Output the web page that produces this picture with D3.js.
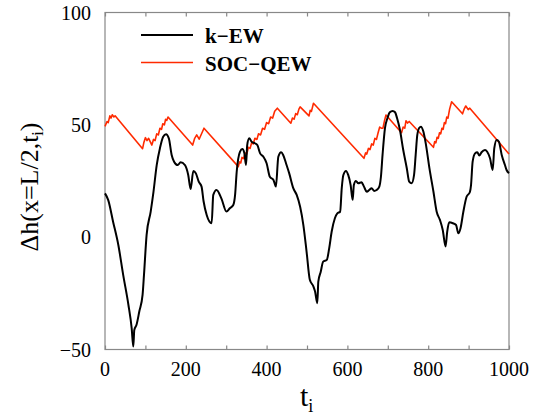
<!DOCTYPE html>
<html><head><meta charset="utf-8">
<script src="https://cdn.jsdelivr.net/npm/d3@7"></script>
<style>
html,body{margin:0;padding:0;background:#fff;}
svg{display:block;}
text{font-family:"Liberation Serif","Times New Roman",serif;}
</style></head>
<body>
<svg id="chart" width="542" height="417"></svg>
<script>
const xTicks = [0, 200, 400, 600, 800, 1000];
const xMinorTicks = [0, 100, 200, 300, 400, 500, 600, 700, 800, 900, 1000];
const yTicks = [-50, 0, 50, 100];
const seriesNames = ["k\u2212EW", "SOC\u2212QEW"];

const kewT = [0,8,20,33,45,58,66,70,72.5,78,85,93,96.5,103,113,120,128,136,144,151,158,165,171,180,187,198,206,212,218.6,225,232,239,244,251.7,264,268,276,288,300.7,309,317.5,322,326,334,340,345,349,352,357,363,371,377,384,392,400,408,417,423,429,436,441,448,456,466,474.5,483,491,499,507,516,520,525.5,528,534,540,549,555,561,569,575,582,586,590,596.5,602,608,613,616,621,627,635,641,648,654,660,666,672.5,679,683,687,693,699,705,712,718,723,730,738,747,753,759,765,769,773,778,782,788,794.6,803,813,821,829,836,843,847,852,861,869,874.5,880,887,895,903,906,910,916,921.5,926.5,932,940.6,946,953,959.6,963.6,969.6,975,982,990,994,1000];
const kewV = [19.5,16.5,6.9,-3.5,-16.8,-30.2,-40.5,-48.7,-41.3,-39,-33,-25.7,-16.8,1,11.3,20.2,32.1,39.6,44.7,45.8,44,36.6,33.6,32.1,33.3,32.1,27.7,21.4,29.5,28.4,24.7,22.5,16,9.9,6.2,18.8,21,17.3,11.4,12.9,14.3,18.8,29.1,38,39.2,37.3,32.1,41,44,42.5,41.8,41,37.3,35.8,32.9,26.9,25.5,22.5,35.8,37.8,36.6,32.9,28.4,21.8,18.8,13.5,5.4,-6.5,-19,-22,-24.2,-29.4,-19.8,-15.4,-10.9,-10.1,-4.9,2.4,8.4,10.6,11.3,21.8,27.7,29.5,27.7,23.2,16.6,23.2,25,24,24.4,22.5,20.2,21,21.8,20.6,21,22.5,26.9,36.6,48.5,52.9,55.6,56.2,55.6,52.9,47.8,39,30.7,24.7,24,27.7,36.6,45.5,48.7,49.2,47,41,30.7,20.2,11.3,7.7,3.2,-4.2,2.4,6.6,6.2,5.4,1.7,4,11.3,18,20,23.2,33.6,37.3,37.8,36.3,37.8,38.8,38,35.1,29.9,39.6,43.3,42.5,36.6,32.1,29.9,28.5];

const qewT = [0,5,8,12,15,18,22,25,93,96,100,104,108,116,120,124,128,132,136,140,143,147,150,153,156,217,222,227,233,245,330,333,336,339,343,347,351,355,359,363,367,371,376,380,385,390,395,400,405,410,415,420,426.6,460,464,468,472,476,480,483,505,508,511,516,641,645,648,652,656,660,664,668,672,676,680,684,688,692,695.5,734,738,742,745,749,753,813,816,819,822,825,828,831,834,837,840,843,846,849,853,858,885,889,893,899,903,1000];
const qewV = [49.3,51.5,51,54,53,54.5,53.5,54,39.4,42,44.3,43,44,41,43.5,43,46,45.5,48.5,48,50.5,50,52.5,52,53.5,41,44,45.5,43.6,48.5,31.4,33.5,33,35.5,35,37.5,37,40,39.5,42,41.5,44,43.5,46,45.5,48.5,48,51,50.5,53.5,53,56,57.4,50.7,53,52.5,55,54.5,57,58,54,56.5,56,59.6,35.1,37.5,37,39.5,39,41.5,41,44,43.5,46.5,49,48.5,48.5,52,54.4,46.5,49,48.5,51.8,50.8,51.5,40,42.5,42,44.5,44,46.5,46,48.5,48,51,50.5,53.5,53,57,60.3,54.9,57,58.4,56.8,57.4,37];

const kew = kewT.map((t, i) => ({t: t, v: kewV[i]})).filter(d => d.v !== undefined);
const qew = qewT.map((t, i) => ({t: t, v: qewV[i]})).filter(d => d.v !== undefined);

const svg = d3.select("#chart");
const mLeft = 105, mRight = 509, mTop = 12.5, mBottom = 349.5;
const x = d3.scaleLinear().domain([0, 1000]).range([mLeft, mRight]);
const y = d3.scaleLinear().domain([-50, 100]).range([mBottom, mTop]);
const axisColor = "#888";

// frame
svg.append("rect").attr("x", mLeft).attr("y", mTop)
  .attr("width", mRight - mLeft).attr("height", mBottom - mTop)
  .attr("fill", "none").attr("stroke", axisColor).attr("stroke-width", 1.2);

// ticks (inward)
const xb = svg.append("g").attr("transform", `translate(0,${mBottom})`)
  .call(d3.axisBottom(x).tickValues(xMinorTicks).tickSize(-4).tickFormat(""));
xb.select(".domain").remove();
xb.selectAll("line").attr("stroke", axisColor).attr("stroke-width", 1.2);
const xt = svg.append("g").attr("transform", `translate(0,${mTop})`)
  .call(d3.axisTop(x).tickValues(xMinorTicks).tickSize(-4).tickFormat(""));
xt.select(".domain").remove();
xt.selectAll("line").attr("stroke", axisColor).attr("stroke-width", 1.2);

// x tick labels
svg.append("g").selectAll("text").data(xTicks).join("text")
  .attr("x", d => x(d)).attr("y", 376)
  .attr("text-anchor", "middle").attr("font-size", 20).attr("fill", "#000")
  .text(d => d);

// y tick labels
svg.append("g").selectAll("text").data(yTicks).join("text")
  .attr("x", 91).attr("y", d => y(d) + 7)
  .attr("text-anchor", "end").attr("font-size", 20).attr("fill", "#000")
  .text(d => d < 0 ? "\u2212" + Math.abs(d) : d);

// lines
const line = d3.line().x(d => x(d.t)).y(d => y(d.v));
svg.append("path").datum(qew).attr("d", line)
  .attr("fill", "none").attr("stroke", "#ff2a00").attr("stroke-width", 1.6)
  .attr("stroke-linejoin", "round");
svg.append("path").datum(kew).attr("d", d3.line().x(d => x(d.t)).y(d => y(d.v)).curve(d3.curveMonotoneX))
  .attr("fill", "none").attr("stroke", "#000").attr("stroke-width", 2)
  .attr("stroke-linejoin", "round");

// legend
const legend = [{name: seriesNames[0], color: "#000", w: 2, yy: 35},
                {name: seriesNames[1], color: "#ff2a00", w: 1.6, yy: 62.5}];
const lg = svg.append("g");
legend.forEach(l => {
  lg.append("line").attr("x1", 141).attr("x2", 193).attr("y1", l.yy).attr("y2", l.yy)
    .attr("stroke", l.color).attr("stroke-width", l.w);
  lg.append("text").attr("x", 205).attr("y", l.yy + 8)
    .attr("font-size", 21).attr("font-weight", "bold").attr("fill", "#000")
    .text(l.name);
});

// axis titles
const xTitle = svg.append("text").attr("x", 300).attr("y", 406)
  .attr("font-size", 30).attr("fill", "#000");
xTitle.append("tspan").text("t");
xTitle.append("tspan").attr("font-size", 18).attr("dy", 6).text("i");

const yTitle = svg.append("text")
  .attr("transform", "translate(38,187) rotate(-90)")
  .attr("text-anchor", "middle").attr("font-size", 26).attr("fill", "#000");
yTitle.append("tspan").text("\u0394h(x=L/2,t");
yTitle.append("tspan").attr("font-size", 16).attr("dy", 5).text("i");
yTitle.append("tspan").attr("dy", -5).text(")");
</script>
</body></html>
